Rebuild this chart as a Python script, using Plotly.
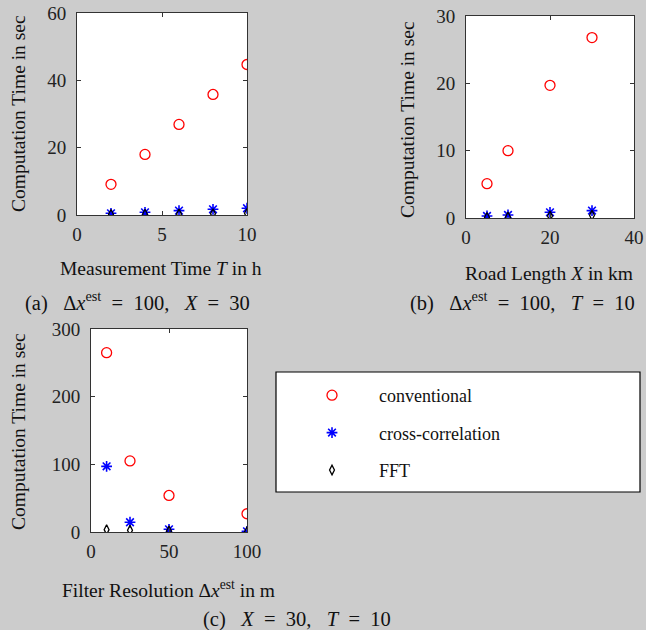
import plotly.graph_objects as go

W, H = 646, 630
FONT = "Liberation Serif"
BG = "#cccccc"

# ---- data ----
series_names = ["conventional", "cross-correlation", "FFT"]

a_x = [2, 4, 6, 8, 10]
a_conv = [9.1, 18.0, 26.9, 35.8, 44.7]
a_xcorr = [0.5, 0.8, 1.3, 1.7, 2.0]
a_fft = [0.2, 0.25, 0.3, 0.4, 0.5]

b_x = [5, 10, 20, 30]
b_conv = [5.1, 10.0, 19.7, 26.8]
b_xcorr = [0.3, 0.45, 0.85, 1.1]
b_fft = [0.1, 0.15, 0.3, 0.4]

c_x = [10, 25, 50, 100]
c_conv = [265, 105, 54, 27]
c_xcorr = [97, 14.4, 4, 1]
c_fft = [3.5, 2.5, 1.5, 0.5]

a_xticks = [0, 5, 10]
a_yticks = [0, 20, 40, 60]
b_xticks = [0, 20, 40]
b_yticks = [0, 10, 20, 30]
c_xticks = [0, 50, 100]
c_yticks = [0, 100, 200, 300]

# ---- helpers ----
def px_x(p):
    return p / W

def px_y(p):
    return 1 - p / H

styles = [
    dict(symbol="circle-open", size=10, color="red", line=dict(color="red", width=1.3)),
    dict(symbol="asterisk-open", size=9, color="blue", line=dict(color="blue", width=1.6)),
    dict(symbol="diamond-tall-open", size=7, color="black", line=dict(color="black", width=1.3)),
]

fig = go.Figure()

panels = [
    ("x", "y", a_x, [a_conv, a_xcorr, a_fft]),
    ("x2", "y2", b_x, [b_conv, b_xcorr, b_fft]),
    ("x3", "y3", c_x, [c_conv, c_xcorr, c_fft]),
]
NB = "\u00a0" * 6
for pi, (xa, ya, xs, ys_list) in enumerate(panels):
    for si, ys in enumerate(ys_list):
        fig.add_trace(go.Scatter(
            x=xs, y=ys, mode="markers", xaxis=xa, yaxis=ya,
            marker=styles[si], name=NB + series_names[si],
            legendgroup=series_names[si], showlegend=(pi == 0),
        ))

axis_common = dict(
    automargin=False,
    showgrid=False, zeroline=False, showline=True, linecolor="#333333", linewidth=1,
    mirror="allticks", ticks="inside", ticklen=4, tickcolor="#333333", tickwidth=1,
    tickfont=dict(family=FONT, size=19, color="#222222"),
)

def xaxis(domain, rng, ticks, anchor):
    d = dict(axis_common)
    d.update(domain=domain, range=rng, tickvals=ticks, anchor=anchor, ticklabelstandoff=2)
    return d

def yaxis(domain, rng, ticks, anchor):
    d = dict(axis_common)
    d.update(domain=domain, range=rng, tickvals=ticks, anchor=anchor, ticklabelstandoff=6)
    return d

fig.update_layout(
    width=W, height=H,
    margin=dict(l=0, r=0, t=0, b=0, autoexpand=False),
    paper_bgcolor=BG, plot_bgcolor="white",
    xaxis=xaxis([px_x(77), px_x(247)], [0, 10], a_xticks, "y"),
    yaxis=yaxis([px_y(215), px_y(13)], [0, 60], a_yticks, "x"),
    xaxis2=xaxis([px_x(466), px_x(634)], [0, 40], b_xticks, "y2"),
    yaxis2=yaxis([px_y(218), px_y(16)], [0, 30], b_yticks, "x2"),
    xaxis3=xaxis([px_x(91), px_x(247)], [0, 100], c_xticks, "y3"),
    yaxis3=yaxis([px_y(532), px_y(329)], [0, 300], c_yticks, "x3"),
    showlegend=True,
    legend=dict(
        x=px_x(312), y=px_y(377), xanchor="left", yanchor="top",
        bgcolor="rgba(0,0,0,0)", borderwidth=0,
        font=dict(family=FONT, size=18, color="#111111"),
        tracegroupgap=11, itemwidth=30,
    ),
    shapes=[dict(type="rect", xref="paper", yref="paper",
                 x0=px_x(276), x1=px_x(640), y0=px_y(492), y1=px_y(372),
                 line=dict(color="black", width=1.2), fillcolor="white", layer="below")],
)

def ann(text, x, y, size=18, angle=0):
    fig.add_annotation(text=text, x=px_x(x), y=px_y(y), xref="paper", yref="paper",
                       showarrow=False, textangle=angle, xanchor="center", yanchor="middle",
                       font=dict(family=FONT, size=size, color="#111111"))

S = "\u00a0"
EQ = S * 2 + "=" + S * 2

# axis titles
ann("Measurement Time <i>T</i> in h", 161, 268, 19.5)
ann("Computation Time in sec", 18, 114, 19.5, -90)
ann("Road Length <i>X</i> in km", 549, 273, 19.5)
ann("Computation Time in sec", 407, 119, 19.5, -90)
ann("Filter Resolution Δ<i>x</i><sup>est</sup> in m", 168, 589, 19.5)
ann("Computation Time in sec", 18, 432, 19.5, -90)

# sub-captions
ann("(a)" + S * 3 + "Δ<i>x</i><sup>est</sup>" + EQ + "100," + S * 3 + "<i>X</i>" + EQ + "30", 137, 301, 20.5)
ann("(b)" + S * 3 + "Δ<i>x</i><sup>est</sup>" + EQ + "100," + S * 3 + "<i>T</i>" + EQ + "10", 522, 301, 20.5)
ann("(c)" + S * 3 + "<i>X</i>" + EQ + "30," + S * 3 + "<i>T</i>" + EQ + "10", 297, 619, 20.5)

fig.write_html("out.html")
